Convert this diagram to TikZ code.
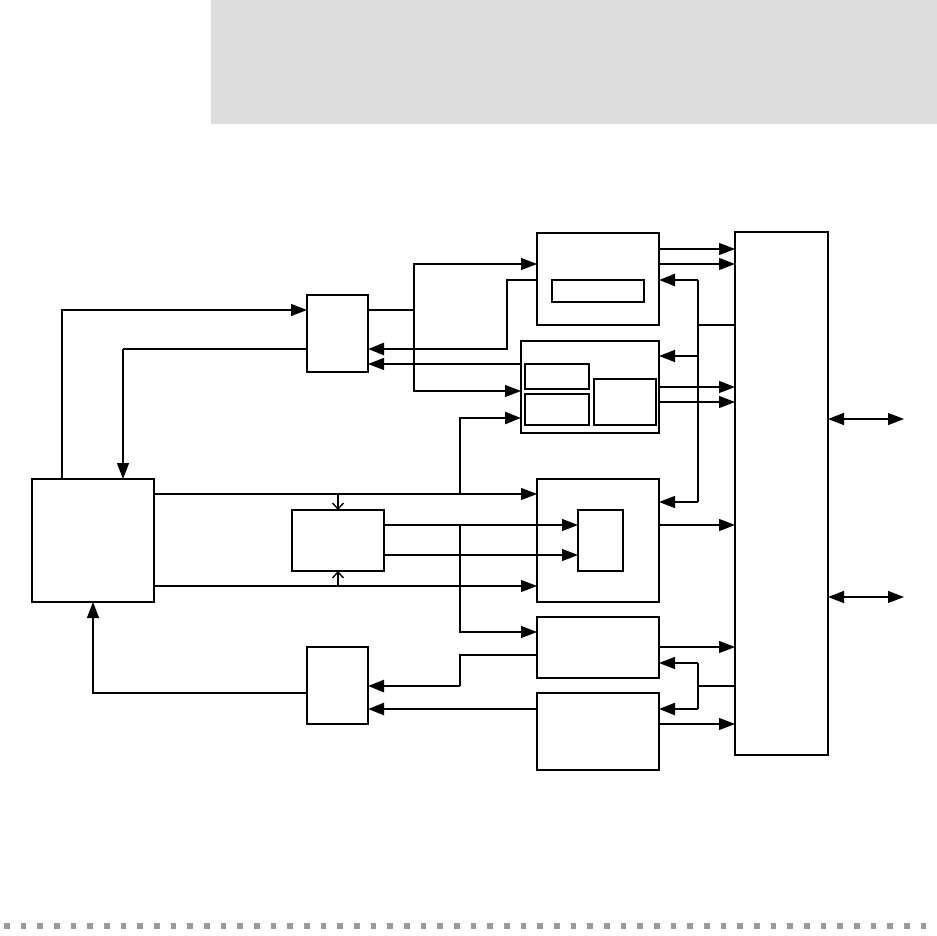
\documentclass[tikz,border=0pt]{standalone}
\usepackage{xcolor}
\usepackage{tikz}
\usetikzlibrary{arrows.meta, calc}
\definecolor{bannergray}{HTML}{DCDDDC}
\definecolor{dotgray}{HTML}{9A9A9A}
\tikzset{
  box/.style={
    rectangle, draw, line width=0.35mm,
    inner sep=0pt, outer sep=0pt, anchor=north west
  },
  wire/.style={draw, line width=0.35mm},
  thick wire/.style={draw, line width=0.75mm},
  line/.style={wire, -{Triangle[length=4.8mm, width=3.6mm]}},
  thick line/.style={thick wire, -{Triangle[length=4.8mm, width=3.6mm]}},
  both line/.style={wire, {Triangle[length=4.8mm, width=3.6mm]}-{Triangle[length=4.8mm, width=3.6mm]}},
  stub/.style={thick wire, -{Straight Barb[length=1.8mm, width=3.3mm, line width=0.4mm]}},
}

\begin{document}
\begin{tikzpicture}[x=0.3mm, y=-0.3mm]
  \useasboundingbox (0,0) rectangle (937,935);
  % Banner and footer
  \fill[bannergray] (211,0) rectangle (937,124);
  \draw[dotgray, line width=1.7mm, dash pattern=on 1.7mm off 3.3mm] (4,926) -- (930,926);

  % Blocks
  \node[box, minimum width=36.6mm, minimum height=36.9mm] (ctrl) at (32,479) {};
  \node[box, minimum width=18.3mm, minimum height=23.1mm] (mux) at (307,295) {};
  \node[box, minimum width=18.3mm, minimum height=23.1mm] (dmux) at (307,647) {};
  \node[box, minimum width=27.6mm, minimum height=18.3mm] (conv) at (292,510) {};

  \node[box, minimum width=36.6mm, minimum height=27.6mm] (upper) at (537,233) {};
  \node[box, minimum width=27.6mm, minimum height=6.6mm] (upbar) at (552,280) {};

  \node[box, minimum width=41.4mm, minimum height=27.6mm] (mid) at (521,341) {};
  \node[box, minimum width=19.2mm, minimum height=7.5mm] (midA) at (525,364) {};
  \node[box, minimum width=19.2mm, minimum height=9.3mm] (midB) at (525,394) {};
  \node[box, minimum width=18.6mm, minimum height=13.8mm] (midC) at (594,379) {};

  \node[box, minimum width=36.6mm, minimum height=36.9mm] (core) at (537,479) {};
  \node[box, minimum width=13.5mm, minimum height=18.3mm] (coreIn) at (578,510) {};

  \node[box, minimum width=36.6mm, minimum height=18.3mm] (lowA) at (537,617) {};
  \node[box, minimum width=36.6mm, minimum height=23.1mm] (lowB) at (537,693) {};

  \node[box, minimum width=27.9mm, minimum height=156.9mm] (bus) at (735,232) {};

  % Junctions
  \coordinate (jA) at (414,310);
  \coordinate (kB) at (507,349);
  \coordinate (kD) at (123,349);
  \coordinate (jD) at (460,494);
  \coordinate (jE) at (460,525);
  \coordinate (kG) at (460,686);
  \coordinate (tTop) at (698,280);
  \coordinate (tMid) at (698,325);
  \coordinate (tBot) at (698,502);
  \coordinate (bTop) at (698,663);
  \coordinate (bMid) at (698,686);
  \coordinate (bBot) at (698,709);
  \coordinate (ext1) at (904,419);
  \coordinate (ext2) at (904,597);

  % Left side
  \draw[line] (ctrl.north -| 62,0) |- (mux.west |- 0,310);
  \draw[thick wire] (mux.west |- kD) -- (kD);
  \draw[line] (kD) -- (ctrl.north -| kD);
  \draw[wire] (mux.east |- jA) -- (jA);
  \draw[line] (jA) |- (upper.west |- 0,264);
  \draw[line] (jA) |- (mid.west |- 0,391);
  \draw[thick line] (upper.west |- 0,280) -| (kB) -- (mux.east |- kB);
  \draw[line] (mid.west |- 0,364) -- (mux.east |- 0,364);

  \draw[line] (ctrl.east |- jD) -- (core.west |- jD);
  \draw[line] (ctrl.east |- 0,586) -- (core.west |- 0,586);
  \draw[thick line] (jD) |- (mid.west |- 0,418);
  \draw[stub] (conv.north |- jD) -- (conv.north);
  \draw[stub] (conv.south |- 0,586) -- (conv.south);
  \draw[line] (conv.east |- jE) -- (coreIn.west |- jE);
  \draw[line] (conv.east |- 0,555) -- (coreIn.west |- 0,555);
  \draw[line] (jE) |- (lowA.west |- 0,632);

  \draw[wire] (lowA.west |- 0,655) -| (kG);
  \draw[thick line] (kG) -- (dmux.east |- kG);
  \draw[thick line] (lowB.west |- bBot) -- (dmux.east |- bBot);
  \draw[line] (dmux.west |- 0,693) -| (ctrl.south -| 93,0);

  % Into the bus
  \draw[line] (upper.east |- 0,249) -- (bus.west |- 0,249);
  \draw[line] (upper.east |- 0,264) -- (bus.west |- 0,264);
  \draw[line] (mid.east |- 0,387) -- (bus.west |- 0,387);
  \draw[line] (mid.east |- 0,402) -- (bus.west |- 0,402);
  \draw[line] (core.east |- jE) -- (bus.west |- jE);
  \draw[line] (lowA.east |- 0,647) -- (bus.west |- 0,647);
  \draw[line] (lowB.east |- 0,724) -- (bus.west |- 0,724);

  % Back from the bus
  \draw[wire] (bus.west |- tMid) -- (tMid);
  \draw[wire] (tTop) -- (tBot);
  \draw[thick line] (tTop) -- (upper.east |- tTop);
  \draw[line] (698,356) -- (mid.east |- 0,356);
  \draw[line] (tBot) -- (core.east |- tBot);
  \draw[thick wire] (bus.west |- bMid) -- (bMid);
  \draw[wire] (bTop) -- (bMid);
  \draw[thick wire] (bMid) -- (bBot);
  \draw[line] (bTop) -- (lowA.east |- bTop);
  \draw[thick line] (bBot) -- (lowB.east |- bBot);

  % Outside
  \draw[both line] (bus.east |- ext1) -- (ext1);
  \draw[both line] (bus.east |- ext2) -- (ext2);
\end{tikzpicture}
\end{document}
